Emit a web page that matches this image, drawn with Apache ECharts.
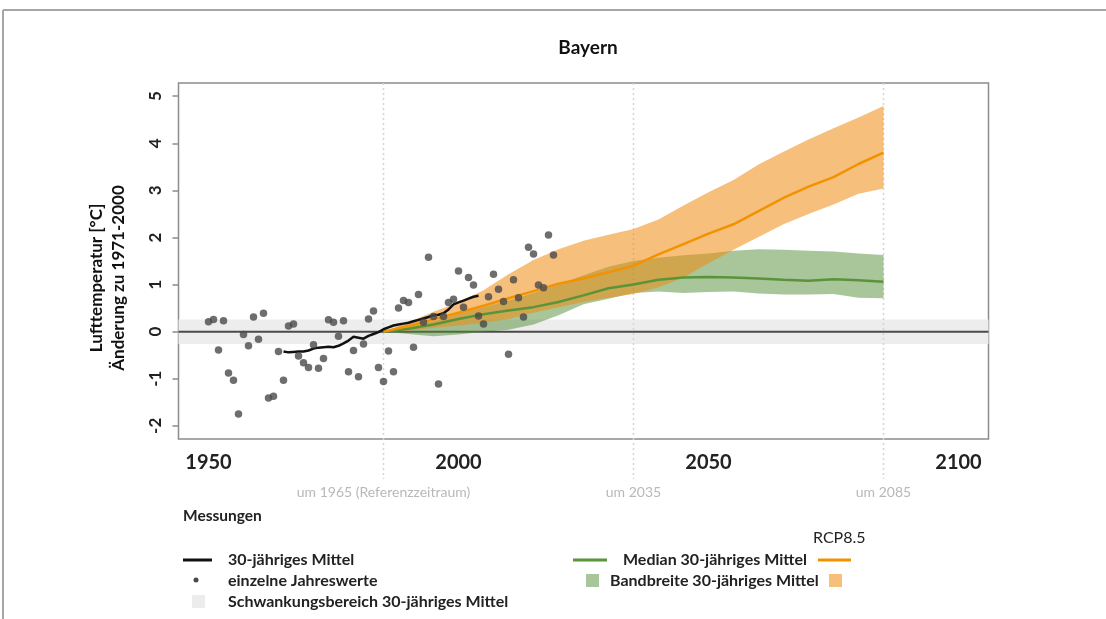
<!DOCTYPE html>
<html><head><meta charset="utf-8">
<script src="https://cdn.jsdelivr.net/npm/echarts@6/dist/echarts.min.js"></script>
<style>html,body{margin:0;padding:0;background:#fff}#c{width:1106px;height:619px}</style>
</head><body><div id="c"></div>
<script>
// ---- Data ----
const obsYears = [1950,1951,1952,1953,1954,1955,1956,1957,1958,1959,
  1960,1961,1962,1963,1964,1965,1966,1967,1968,1969,
  1970,1971,1972,1973,1974,1975,1976,1977,1978,1979,
  1980,1981,1982,1983,1984,1985,1986,1987,1988,1989,
  1990,1991,1992,1993,1994,1995,1996,1997,1998,1999,
  2000,2001,2002,2003,2004,2005,2006,2007,2008,2009,
  2010,2011,2012,2013,2014,2015,2016,2017,2018,2019];
const obsValues = [0.21,0.26,-0.39,0.23,-0.88,-1.03,-1.75,-0.06,-0.30,0.31,
  -0.16,0.39,-1.41,-1.37,-0.42,-1.03,0.12,0.16,-0.52,-0.66,
  -0.76,-0.28,-0.78,-0.57,0.25,0.20,-0.10,0.23,-0.85,-0.40,
  -0.96,-0.26,0.27,0.44,-0.76,-1.06,-0.41,-0.85,0.50,0.66,
  0.62,-0.33,0.79,0.20,1.58,0.32,-1.11,0.32,0.62,0.69,
  1.29,0.52,1.15,0.99,0.33,0.16,0.74,1.22,0.90,0.64,
  -0.48,1.10,0.72,0.31,1.79,1.65,0.99,0.93,2.05,1.63];

const meanYears = [1965,1966,1967,1968,1969,1970,1971,1972,1973,1974,
  1975,1976,1977,1978,1979,1980,1981,1982,1983,1984,
  1985,1986,1987,1988,1989,1990,1991,1992,1993,1994,
  1995,1996,1997,1998,1999,2000,2001,2002,2003,2004];
const meanValues = [-0.42,-0.44,-0.43,-0.42,-0.42,-0.40,-0.36,-0.34,-0.33,-0.32,
  -0.33,-0.30,-0.25,-0.19,-0.11,-0.13,-0.15,-0.09,-0.05,-0.01,
  0.05,0.09,0.13,0.15,0.17,0.19,0.22,0.25,0.28,0.31,
  0.35,0.36,0.39,0.47,0.58,0.62,0.66,0.70,0.74,0.76];

const projYears = [1985,1990,1995,2000,2005,2010,2015,2020,2025,2030,2035,
  2040,2045,2050,2055,2060,2065,2070,2075,2080,2085];
const orangeHigh = [0.00,0.20,0.42,0.62,0.88,1.22,1.52,1.75,1.93,2.06,2.18,
  2.38,2.68,2.96,3.22,3.55,3.82,4.08,4.32,4.55,4.79];
const orangeMed  = [0.00,0.12,0.26,0.40,0.55,0.71,0.86,1.02,1.13,1.26,1.40,
  1.64,1.86,2.08,2.28,2.56,2.84,3.08,3.28,3.56,3.80];
const orangeLow  = [0.00,0.02,0.08,0.13,0.19,0.27,0.40,0.52,0.63,0.72,0.80,
  0.94,1.15,1.45,1.74,2.01,2.28,2.50,2.70,2.93,3.04];
const greenHigh  = [0.00,0.10,0.22,0.38,0.52,0.66,0.82,1.00,1.20,1.38,1.50,
  1.57,1.62,1.66,1.72,1.75,1.74,1.72,1.70,1.66,1.63];
const greenMed   = [0.00,0.06,0.15,0.27,0.37,0.45,0.52,0.63,0.77,0.92,1.00,
  1.10,1.15,1.16,1.15,1.13,1.10,1.08,1.11,1.09,1.06];
const greenLow   = [0.00,-0.05,-0.10,-0.06,0.00,0.04,0.15,0.35,0.58,0.70,0.82,
  0.85,0.82,0.84,0.85,0.81,0.79,0.79,0.80,0.72,0.71];

const refBand = [-0.26, 0.26];
const xTicks = [1950, 2000, 2050, 2100];
const yTicks = [-2, -1, 0, 1, 2, 3, 4, 5];
const markerYears = [1985, 2035, 2085];
const markerLabels = ['um 1965 (Referenzzeitraum)', 'um 2035', 'um 2085'];

// ---- Styles ----
const FONT = 'Lato';
const X_MIN = 1944, X_MAX = 2106, Y_MIN = -2.28, Y_MAX = 5.28;
const C_ORANGE = '#f39200', C_GREEN = '#5a943a';
const F_ORANGE = 'rgba(239,139,17,0.55)', F_GREEN = 'rgba(83,139,53,0.5)';

const chart = echarts.init(document.getElementById('c'), null, {renderer: 'canvas'});

function bandSeries(name, low, high, fill, z) {
  return {
    type: 'custom', name, z, silent: true,
    data: projYears.map((yr, i) => [yr, low[i], high[i]]),
    encode: {x: 0, y: [1, 2]},
    renderItem(params, api) {
      if (params.dataIndex !== 0) return null;
      const top = projYears.map((yr, i) => api.coord([yr, high[i]]));
      const bot = projYears.map((yr, i) => api.coord([yr, low[i]])).reverse();
      return {type: 'polygon', shape: {points: top.concat(bot)}, style: {fill}};
    }
  };
}

function legText(x, y, text, size, weight) {
  return {type: 'text', x, y, style: {text, font: (weight || 'bold') + ' ' + size + 'px ' + FONT,
    fill: '#222', align: 'left', verticalAlign: 'middle'}};
}

const option = {
  backgroundColor: '#fff',
  animation: false,
  title: {
    text: 'Bayern', left: 583, top: 33, textAlign: 'center',
    textStyle: {fontFamily: FONT, fontSize: 19, fontWeight: 'bold', color: '#111'}
  },
  grid: {
    left: 178.5, right: 117.5, top: 83, bottom: 180,
    show: true, borderColor: '#8c8c8c', borderWidth: 1.5, backgroundColor: 'transparent'
  },
  xAxis: {
    type: 'value', min: X_MIN, max: X_MAX,
    splitLine: {show: false}, axisLine: {show: false},
    axisTick: {show: true, inside: false, length: 6, customValues: xTicks, lineStyle: {color: '#8c8c8c', width: 1.5}},
    axisLabel: {customValues: xTicks, formatter: v => String(v), margin: 14,
      fontFamily: FONT, fontSize: 20, fontWeight: 'bold', color: '#222'}
  },
  yAxis: {
    type: 'value', min: Y_MIN, max: Y_MAX,
    splitLine: {show: false}, axisLine: {show: false},
    axisTick: {show: true, inside: false, length: 6, customValues: yTicks, lineStyle: {color: '#8c8c8c', width: 1.5}},
    axisLabel: {customValues: yTicks, rotate: 90, margin: 14, fontFamily: FONT, fontSize: 17, fontWeight: 'bold', color: '#222'}
  },
  series: [
    {
      type: 'custom', name: 'ref', z: 1, silent: true,
      data: [[X_MIN, refBand[0], refBand[1]]],
      encode: {x: 0, y: [1, 2]},
      renderItem(params, api) {
        const cs = params.coordSys;
        const yHi = api.coord([X_MIN, api.value(2)])[1];
        const yLo = api.coord([X_MIN, api.value(1)])[1];
        const y0 = api.coord([X_MIN, 0])[1];
        return {type: 'group', children: [
          {type: 'rect', shape: {x: cs.x, y: yHi, width: cs.width, height: yLo - yHi}, style: {fill: '#ededed'}},
          {type: 'line', shape: {x1: cs.x, y1: y0, x2: cs.x + cs.width, y2: y0}, style: {stroke: '#4a4a4a', lineWidth: 2}}
        ]};
      }
    },
    {
      type: 'custom', name: 'markers', z: 2, silent: true, clip: false,
      data: markerYears.map(y => [y, Y_MAX]),
      encode: {x: 0, y: 1},
      renderItem(params, api) {
        const cs = params.coordSys;
        const p = api.coord([api.value(0), api.value(1)]);
        const bottom = cs.y + cs.height;
        return {type: 'group', children: [
          {type: 'line', shape: {x1: p[0], y1: p[1], x2: p[0], y2: bottom + 40},
            style: {stroke: '#d4d4d4', lineWidth: 1.5, lineDash: [2, 3]}},
          {type: 'text', x: p[0], y: bottom + 53,
            style: {text: markerLabels[params.dataIndex], fill: '#b8b8b8', font: '14px ' + FONT,
              align: 'center', verticalAlign: 'middle'}}
        ]};
      }
    },
    bandSeries('greenBand', greenLow, greenHigh, F_GREEN, 3),
    bandSeries('orangeBand', orangeLow, orangeHigh, F_ORANGE, 4),
    {
      type: 'line', name: 'greenMed', z: 5, showSymbol: false, silent: true,
      data: projYears.map((y, i) => [y, greenMed[i]]),
      lineStyle: {color: C_GREEN, width: 2.5}
    },
    {
      type: 'line', name: 'orangeMed', z: 6, showSymbol: false, silent: true,
      data: projYears.map((y, i) => [y, orangeMed[i]]),
      lineStyle: {color: C_ORANGE, width: 2.5}
    },
    {
      type: 'line', name: 'mean30', z: 7, showSymbol: false, silent: true,
      data: meanYears.map((y, i) => [y, meanValues[i]]),
      lineStyle: {color: '#111', width: 2.5}
    },
    {
      type: 'scatter', name: 'obs', z: 8, silent: true,
      data: obsYears.map((y, i) => [y, obsValues[i]]),
      symbolSize: 7.5, itemStyle: {color: '#4a4a4a'}
    }
  ],
  graphic: [
    // page frame
    {type: 'line', shape: {x1: 3, y1: 10, x2: 1106, y2: 10}, style: {stroke: '#a6a6a6', lineWidth: 2}},
    {type: 'line', shape: {x1: 3, y1: 10, x2: 3, y2: 619}, style: {stroke: '#a6a6a6', lineWidth: 2}},
    // y-axis title
    {type: 'text', x: 97, y: 278, rotation: Math.PI / 2,
      style: {text: 'Lufttemperatur [°C]', font: 'bold 17px ' + FONT, fill: '#111', align: 'center', verticalAlign: 'middle'}},
    {type: 'text', x: 119, y: 278, rotation: Math.PI / 2,
      style: {text: 'Änderung zu 1971-2000', font: 'bold 17px ' + FONT, fill: '#111', align: 'center', verticalAlign: 'middle'}},
    // legend
    legText(183, 516, 'Messungen', 15.5),
    legText(813, 538, 'RCP8.5', 16, 'normal'),
    {type: 'line', shape: {x1: 183, y1: 560, x2: 212, y2: 560}, style: {stroke: '#111', lineWidth: 3}},
    legText(228, 560, '30-jähriges Mittel', 16),
    {type: 'circle', shape: {cx: 196, cy: 580, r: 2.5}, style: {fill: '#4a4a4a'}},
    legText(228, 581, 'einzelne Jahreswerte', 16),
    {type: 'rect', shape: {x: 192, y: 595, width: 13, height: 13}, style: {fill: '#ececec'}},
    legText(228, 602, 'Schwankungsbereich 30-jähriges Mittel', 16),
    {type: 'line', shape: {x1: 573, y1: 560, x2: 607, y2: 560}, style: {stroke: C_GREEN, lineWidth: 3}},
    legText(623, 560, 'Median 30-jähriges Mittel', 16),
    {type: 'line', shape: {x1: 818, y1: 560, x2: 851, y2: 560}, style: {stroke: C_ORANGE, lineWidth: 3}},
    {type: 'rect', shape: {x: 586, y: 574, width: 13, height: 13}, style: {fill: '#a9c59a'}},
    legText(610, 581, 'Bandbreite 30-jähriges Mittel', 16),
    {type: 'rect', shape: {x: 829, y: 574, width: 13, height: 13}, style: {fill: '#f6bf7c'}}
  ]
};
chart.setOption(option);
</script>
</body></html>
